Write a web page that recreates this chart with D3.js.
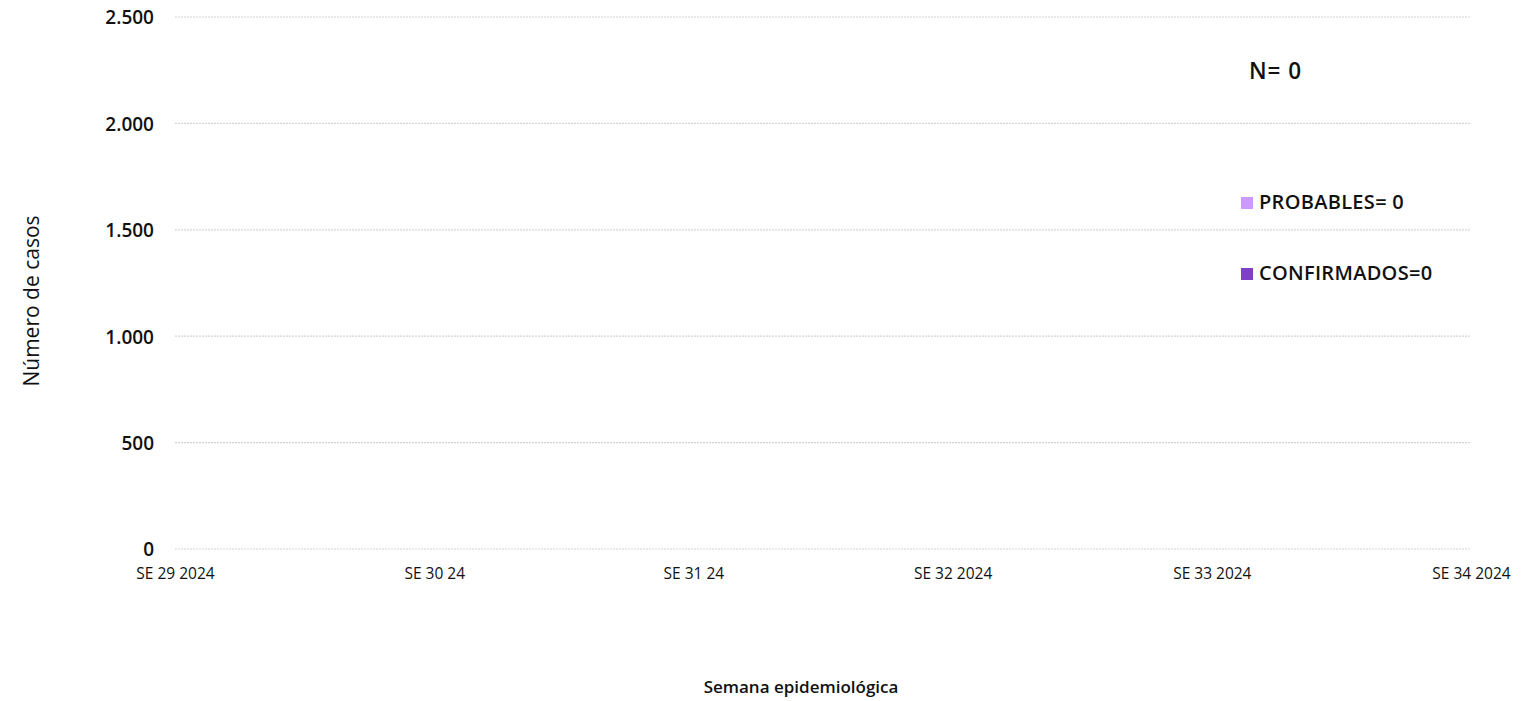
<!DOCTYPE html>
<html lang="es">
<head>
    <meta charset="utf-8">
    <title>Casos por semana epidemiológica</title>
    <script src="https://d3js.org/d3.v7.min.js"></script>
    <style type="text/css">
        body { margin: 0; background: #fff; }
        svg text { font-family: "Open Sans", sans-serif; fill: #111; }
        .tick text { font-weight: 600; }
        .grid line { stroke: #d4d4d4; stroke-width: 1.2; stroke-dasharray: 2 1; }
    </style>
</head>
<body>
    <div id="main"></div>
    <script type="text/javascript">
        // datos
        var semanas = ["SE 29 2024", "SE 30 24", "SE 31 24", "SE 32 2024", "SE 33 2024", "SE 34 2024"];
        var probables = [0, 0, 0, 0, 0, 0];
        var confirmados = [0, 0, 0, 0, 0, 0];
        var yTicks = [0, 500, 1000, 1500, 2000, 2500];
        var series = ["CONFIRMADOS", "PROBABLES"];
        var seriesColors = ["#8040c4", "#cc99ff"];

        var width = 1537, height = 701;
        var plotLeft = 175, plotRight = 1471, plotTop = 17, plotBottom = 549;

        var svg = d3.select("div#main")
            .append("svg")
            .attr("width", width)
            .attr("height", height);

        var x = d3.scalePoint().domain(semanas).range([plotLeft, plotRight]);
        var y = d3.scaleLinear().domain([0, 2500]).range([plotBottom, plotTop]);

        // rejilla
        svg.append("g")
            .attr("class", "grid")
            .selectAll("line")
            .data(yTicks)
            .enter()
            .append("line")
            .attr("x1", plotLeft)
            .attr("x2", plotRight)
            .attr("y1", function(d){ return y(d) })
            .attr("y2", function(d){ return y(d) });

        // eje y
        var yAxis = svg.append("g")
            .attr("transform", "translate(" + (plotLeft - 21) + ",0)")
            .call(d3.axisLeft(y).tickValues(yTicks).tickSize(0).tickPadding(0)
                .tickFormat(function(d){ return d3.format(",")(d).replace(/,/g, ".") }));
        yAxis.select(".domain").remove();
        yAxis.selectAll("text").style("font-size", "19px").attr("dy", "0.36em");

        // eje x
        var xAxis = svg.append("g")
            .attr("transform", "translate(0," + (plotBottom + 25) + ")")
            .call(d3.axisBottom(x).tickSize(0).tickPadding(0));
        xAxis.select(".domain").remove();
        xAxis.selectAll("text").style("font-size", "15.5px").style("font-weight", 400).attr("dy", "0.35em");

        // barras apiladas (todas en cero)
        var rows = semanas.map(function(s, i){ return { semana: s, CONFIRMADOS: confirmados[i], PROBABLES: probables[i] } });
        var stack = d3.stack().keys(series)(rows);
        svg.append("g").selectAll("g")
            .data(stack)
            .enter()
            .append("g")
            .attr("fill", function(d, i){ return seriesColors[i] })
            .selectAll("rect")
            .data(function(d){ return d })
            .enter()
            .append("rect")
            .attr("x", function(d){ return x(d.data.semana) - 40 })
            .attr("width", 80)
            .attr("y", function(d){ return y(d[1]) })
            .attr("height", function(d){ return y(d[0]) - y(d[1]) });

        // títulos de ejes
        svg.append("text")
            .attr("transform", "translate(39,301) rotate(-90)")
            .attr("text-anchor", "middle")
            .style("font-size", "21px")
            .text("Número de casos");

        svg.append("text")
            .attr("x", 801)
            .attr("y", 693)
            .attr("text-anchor", "middle")
            .style("font-size", "17px")
            .style("font-weight", 600)
            .text("Semana epidemiológica");

        // total
        var total = d3.sum(probables) + d3.sum(confirmados);
        svg.append("text")
            .attr("x", 1249)
            .attr("y", 79)
            .style("font-size", "22.5px")
            .style("font-weight", 600)
            .style("letter-spacing", "1px")
            .text("N= " + total);

        // leyenda
        var legend = [
            { label: "PROBABLES= " + d3.sum(probables), color: seriesColors[1], y: 197 },
            { label: "CONFIRMADOS=" + d3.sum(confirmados), color: seriesColors[0], y: 268 }
        ];
        var lg = svg.append("g").selectAll("g")
            .data(legend)
            .enter()
            .append("g")
            .attr("transform", function(d){ return "translate(1241," + d.y + ")" });
        lg.append("rect")
            .attr("width", 12)
            .attr("height", 12)
            .attr("fill", function(d){ return d.color });
        lg.append("text")
            .attr("x", 18)
            .attr("y", 12)
            .style("font-size", "20px")
            .style("font-weight", 600)
            .style("letter-spacing", "0.3px")
            .text(function(d){ return d.label });
    </script>
</body>
</html>
